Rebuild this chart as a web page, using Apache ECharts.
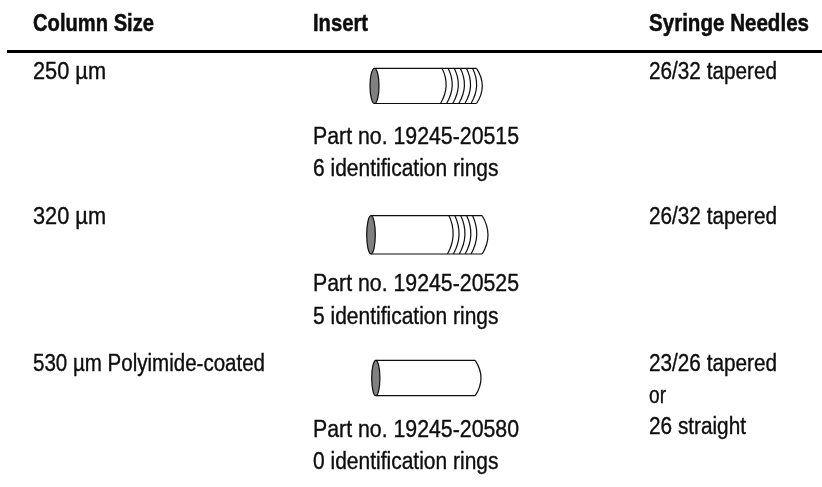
<!DOCTYPE html>
<html><head><meta charset="utf-8">
<style>html,body{margin:0;padding:0;background:#fff}#c{width:822px;height:487px}</style>
<script src="https://cdn.jsdelivr.net/npm/echarts@6/dist/echarts.min.js"></script>
</head><body><div id="c"></div>
<script>
// Data
const headers = ['Column Size', 'Insert', 'Syringe Needles'];
const columnSizes = ['250 µm', '320 µm', '530 µm Polyimide-coated'];
const partNumbers = ['Part no. 19245-20515', 'Part no. 19245-20525', 'Part no. 19245-20580'];
const ringCounts = [6, 5, 0];
const ringLabels = ['6 identification rings', '5 identification rings', '0 identification rings'];
const needles = [['26/32 tapered'], ['26/32 tapered'], ['23/26 tapered', 'or', '26 straight']];

// Layout (pixel space of the hidden axes)
const colX = [33, 313, 649];
const headerY = 24, ruleY = 51.5, ruleX = [7, 822];
const rowY = [72.3, 217.3, 364.3];
const partY = [137.3, 284.3, 430.3], ringLabelY = [169.8, 317.3, 462.8];
const needleY = [[72.3], [217.3], [364.8, 396.3, 427.3]];
const headerW = [121, 55, 160];
const sizeW = [73, 73, 232];
const partW = 206, ringLabelW = 185.5;
const needleW = [[128], [128], [128, 17, 97]];
const cyl = [
  {x0: 374.5, x1: 482.3, top: 68.3, bot: 103.5, rx: 4.5, step: 6.1, start: 442},
  {x0: 371, x1: 488, top: 215.7, bot: 254, rx: 4.3, step: 5.9, start: 449},
  {x0: 375.8, x1: 481, top: 360.3, bot: 395.7, rx: 4.1, step: 0, start: 0}
];
const FONT = '"Liberation Sans",sans-serif';
const INK = '#0d0d0d';

const textRows = [];
headers.forEach((t, i) => textRows.push([colX[i], headerY, t, 1, headerW[i]]));
columnSizes.forEach((t, i) => textRows.push([colX[0], rowY[i], t, 0, sizeW[i]]));
partNumbers.forEach((t, i) => textRows.push([colX[1], partY[i], t, 0, partW]));
ringLabels.forEach((t, i) => textRows.push([colX[1], ringLabelY[i], t, 0, ringLabelW]));
needles.forEach((lines, i) => lines.forEach((t, j) => textRows.push([colX[2], needleY[i][j], t, 0, needleW[i][j]])));

const meter = document.createElement('canvas').getContext('2d');
function renderText(p, api) {
  const c = api.coord([api.value(0), api.value(1)]);
  const r = textRows[p.dataIndex];
  const font = (r[3] ? 'bold 24px ' : '23px ') + FONT;
  meter.font = font;
  return {type: 'text', x: c[0], y: c[1], scaleX: r[4] / meter.measureText(r[2]).width,
    style: {text: r[2], fill: INK, stroke: INK, lineWidth: r[3] ? 0.5 : 0.35, font, textAlign: 'left', textVerticalAlign: 'middle'}};
}
function renderCyl(p, api) {
  const d = cyl[p.dataIndex], n = api.value(0);
  const P = (x, y) => api.coord([x, y]);
  const sty = {stroke: INK, lineWidth: 1.2, fill: null};
  const mid = (d.top + d.bot) / 2;
  const cap = 5.8;
  const children = [];
  const bez = (x1, y1, cx, cy, x2, y2) => {
    const a = P(x1, y1), b = P(cx, cy), e = P(x2, y2);
    return {type: 'bezierCurve', shape: {x1: a[0], y1: a[1], cpx1: b[0], cpy1: b[1], x2: e[0], y2: e[1]}, style: sty};
  };
  const line = (x1, y1, x2, y2) => {
    const a = P(x1, y1), e = P(x2, y2);
    return {type: 'line', shape: {x1: a[0], y1: a[1], x2: e[0], y2: e[1]}, style: sty};
  };
  const c0 = P(d.x0, mid);
  children.push(line(d.x0, d.top, d.x1 - cap, d.top));
  children.push(line(d.x0, d.bot, d.x1 - cap, d.bot));
  children.push(bez(d.x1 - cap, d.top, d.x1 + cap, mid, d.x1 - cap, d.bot));
  for (let k = 0; k < n; k++) {
    const x = d.start + k * d.step;
    children.push(bez(x, d.top, x + 9, mid, x - 1.5, d.bot));
  }
  children.push({type: 'ellipse', shape: {cx: c0[0], cy: c0[1], rx: d.rx, ry: (d.bot - d.top) / 2},
    style: {fill: '#808080', stroke: INK, lineWidth: 1.2}});
  return {type: 'group', children};
}

const chart = echarts.init(document.getElementById('c'), null, {renderer: 'canvas'});
chart.setOption({
  animation: false,
  backgroundColor: '#fff',
  grid: {left: 0, right: 0, top: 0, bottom: 0},
  xAxis: {type: 'value', min: 0, max: 822, show: false},
  yAxis: {type: 'value', min: 0, max: 487, inverse: true, show: false},
  series: [
    {type: 'lines', coordinateSystem: 'cartesian2d', silent: true,
     data: [{coords: [[ruleX[0], ruleY], [ruleX[1], ruleY]]}],
     lineStyle: {color: '#000', width: 3, opacity: 1}},
    {type: 'custom', coordinateSystem: 'cartesian2d', silent: true, renderItem: renderCyl,
     data: ringCounts.map(n => [n]), encode: {x: [], y: []}},
    {type: 'custom', coordinateSystem: 'cartesian2d', silent: true, renderItem: renderText,
     data: textRows.map(r => [r[0], r[1]]), encode: {x: 0, y: 1}}
  ]
});
</script></body></html>
